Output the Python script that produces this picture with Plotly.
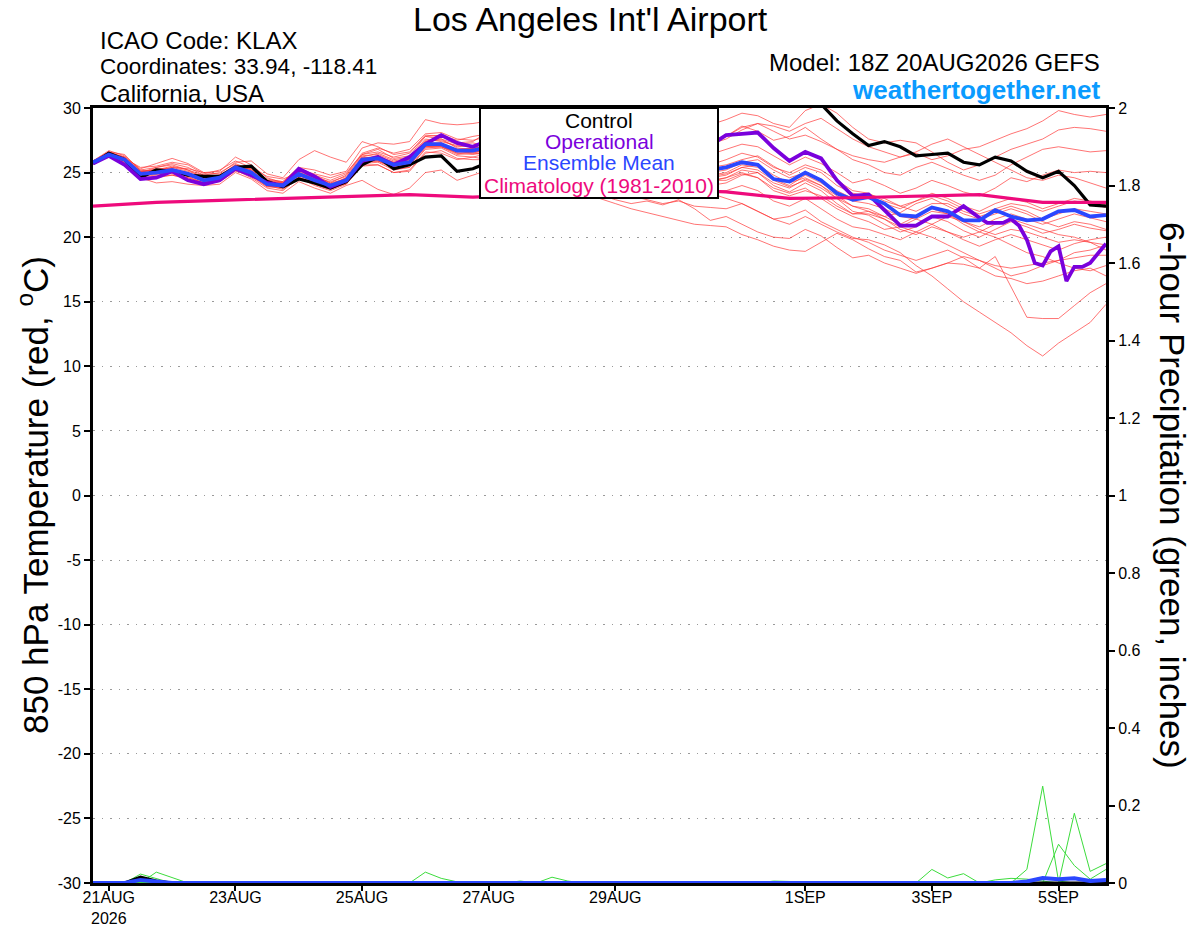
import pandas as pd
import plotly.graph_objects as go

# 6-hourly GEFS valid times, 18Z 20AUG2026 -> 18Z 5SEP2026
times = pd.date_range("2026-08-20 18:00", periods=65, freq="6h")

CONTROL_TEMP = [25.7, 26.5, 26.0, 24.6, 25.2, 25.1, 24.8, 24.7, 24.7, 25.4,
                25.5, 24.3, 23.9, 24.5, 24.2, 23.8, 24.3, 25.6, 26.2, 25.3,
                25.6, 26.2, 26.3, 25.1, 25.3, 25.8, 26.5, 27.0, 27.6, 28.0,
                28.3, 28.6, 28.9, 29.2, 29.5, 29.8, 30.1, 30.3, 30.0, 29.9,
                30.6, 31.2, 31.5, 31.6, 31.4, 31.0, 30.3, 29.0, 28.0, 27.1,
                27.4, 27.0, 26.3, 26.4, 26.5, 25.8, 25.6, 26.2, 25.9, 25.1,
                24.6, 25.1, 24.0, 22.5, 22.4]

MEAN_TEMP = [25.8, 26.4, 26.0, 24.9, 25.0, 25.2, 24.9, 24.4, 24.6, 25.4,
             25.0, 24.1, 24.0, 24.9, 24.4, 24.0, 24.4, 26.0, 26.1, 25.6,
             25.8, 27.2, 27.2, 26.7, 26.7, 27.0, 27.3, 27.5, 27.2, 26.9,
             26.6, 26.4, 26.6, 26.8, 26.9, 26.7, 26.2, 25.8, 25.4, 25.2,
             25.4, 25.8, 25.6, 24.5, 24.3, 25.0, 24.4, 23.4, 22.9, 23.1,
             22.6, 21.7, 21.6, 22.3, 22.0, 21.3, 21.3, 22.1, 21.6, 21.3,
             21.4, 22.0, 22.1, 21.6, 21.7]

# operational run: 6-hourly to 3SEP 18Z, 3-hourly afterwards
op_times = list(times[:57]) + list(pd.date_range("2026-09-03 21:00", periods=16, freq="3h"))
OP_TEMP = [25.7, 26.3, 25.6, 24.5, 24.6, 25.1, 24.4, 24.1, 24.4, 25.3,
           24.8, 24.2, 24.0, 25.3, 24.7, 23.9, 24.4, 25.9, 26.2, 25.6,
           26.2, 27.2, 27.9, 27.3, 27.0, 27.5, 27.8, 28.2, 28.0, 27.6,
           27.2, 27.0, 27.3, 27.6, 27.9, 28.0, 27.7, 27.3, 27.0, 27.1,
           27.9, 28.0, 28.1, 26.9, 25.9, 26.6, 26.1, 24.4, 23.2, 23.3,
           22.1, 20.9, 20.9, 21.6, 21.6, 22.4, 21.5,
           21.1, 21.1, 21.1, 21.4, 20.9, 19.8, 18.0, 17.8, 18.9, 19.3,
           16.6, 17.7, 17.7, 18.0, 18.8, 19.5]

# 1981-2010 climatology, daily at 18Z
clim_times = pd.date_range("2026-08-20 18:00", periods=17, freq="24h")
CLIM_TEMP = [22.4, 22.7, 22.85, 23.0, 23.15, 23.3, 23.1, 23.3, 23.5, 23.7,
             23.5, 23.0, 23.05, 23.2, 23.3, 22.7, 22.7]

ENS_TEMP = [
    [25.9, 26.6, 26.2, 25.3, 25.7, 26.1, 25.7, 25.0, 25.1, 26.2, 25.6, 24.6, 24.2, 25.2, 24.9, 24.6, 25.0, 26.4, 26.8, 26.1, 26.3, 27.8, 27.9, 27.5, 27.8,
     28.0, 28.3, 28.0, 27.6, 27.4, 27.5, 27.8, 28.0, 28.2, 28.0, 27.6, 27.3, 27.0, 27.2, 27.5,
     27.8, 28.5, 28.8, 28.2, 27.6, 27.9, 27.4, 26.8, 26.3, 26.0, 25.8, 26.2, 26.5, 26.0, 26.3, 26.8, 27.0, 27.5, 28.0, 28.4, 29.0, 29.8, 29.5, 29.3, 29.5],
    [25.8, 26.5, 26.1, 25.1, 25.2, 25.4, 25.1, 24.7, 24.8, 25.5, 25.3, 24.4, 24.3, 25.4, 25.2, 24.8, 25.1, 26.9, 27.3, 27.2, 27.4, 29.1, 28.8, 28.7, 28.8,
     29.0, 29.3, 29.6, 29.4, 29.0, 28.7, 28.9, 29.2, 29.5, 29.8, 29.6, 29.3, 29.0, 28.8, 28.7,
     29.1, 29.6, 29.4, 28.8, 28.5, 29.8, 30.3, 29.6, 28.5, 27.6, 27.3, 27.5, 27.3, 26.6, 25.8, 25.2, 25.6, 26.2, 26.8, 27.2, 27.6, 28.3, 28.5, 28.4, 28.2],
    [25.7, 26.2, 25.8, 24.6, 24.2, 24.3, 24.1, 24.0, 24.1, 25.0, 24.5, 23.6, 23.4, 24.3, 23.8, 23.4, 24.0, 24.4, 23.7, 23.3, 23.8, 25.0, 25.2, 24.4, 24.8,
     25.2, 25.6, 25.4, 25.0, 24.6, 24.2, 23.8, 23.3, 22.9, 22.6, 22.8, 22.5, 22.9, 22.2, 21.3,
     21.6, 21.0, 20.4, 20.0, 19.9, 20.6, 20.1, 19.2, 18.4, 18.6, 18.0, 17.6, 17.2, 17.6, 18.0, 17.9, 17.6, 18.5, 16.1, 13.8, 13.7, 13.7, 14.7, 15.7, 16.4],
    [25.8, 26.4, 25.9, 24.8, 25.1, 25.4, 25.3, 25.0, 24.9, 25.8, 25.9, 24.9, 24.6, 26.0, 26.7, 26.2, 25.8, 27.4, 27.0, 26.4, 26.6, 27.8, 27.6, 27.2, 27.3,
     27.0, 27.3, 27.0, 26.5, 26.0, 25.7, 25.8, 26.0, 25.7, 25.2, 24.8, 24.5, 24.2, 23.8, 23.4,
     23.0, 22.6, 22.0, 21.4, 21.0, 21.6, 21.0, 20.4, 19.9, 19.8, 19.4, 18.8, 17.8, 17.0, 16.0, 15.0, 14.2, 13.4, 12.6, 11.6, 10.8, 11.8, 12.6, 13.4, 14.8],
    [25.9, 26.7, 26.3, 25.2, 25.0, 24.9, 24.6, 24.2, 24.4, 25.2, 24.6, 23.8, 23.6, 24.6, 24.1, 23.7, 24.2, 25.7, 25.8, 25.2, 25.4, 26.8, 26.9, 26.3, 26.2,
     26.0, 26.2, 25.8, 25.2, 24.6, 24.0, 23.5, 23.0, 22.6, 22.2, 21.9, 21.6, 21.3, 21.0, 20.9,
     20.8, 20.2, 19.8, 19.3, 19.0, 18.9, 19.6, 20.3, 19.8, 19.1, 18.5, 18.2, 17.3, 17.6, 18.0, 18.5, 18.2, 17.6, 17.0, 17.3, 17.8, 18.2, 18.8, 19.0, 19.4],
    [25.8, 26.3, 26.0, 25.0, 25.4, 25.6, 25.2, 24.6, 24.8, 25.6, 25.1, 24.3, 24.2, 25.1, 24.6, 24.3, 24.7, 26.3, 26.4, 25.9, 26.1, 27.5, 27.5, 27.0, 27.1,
     27.5, 27.8, 27.6, 27.2, 26.9, 26.5, 26.3, 26.6, 26.9, 27.0, 26.8, 26.3, 25.9, 25.6, 25.4,
     25.6, 26.0, 26.3, 25.5, 24.8, 25.4, 25.0, 24.0, 23.4, 23.2, 22.6, 22.2, 22.8, 23.4, 23.0, 22.4, 22.0, 22.6, 23.0, 22.7, 22.2, 22.6, 23.0, 22.8, 22.5],
    [25.7, 26.5, 26.2, 24.7, 24.8, 25.0, 24.8, 24.3, 24.4, 25.3, 25.0, 24.0, 23.9, 24.8, 24.3, 23.9, 24.1, 25.8, 25.9, 25.3, 25.4, 26.9, 27.0, 26.4, 26.5,
     26.8, 27.0, 26.6, 26.2, 25.8, 25.5, 25.8, 26.2, 26.4, 26.2, 25.8, 25.2, 24.8, 24.5, 24.3,
     24.6, 25.2, 25.0, 24.2, 23.8, 24.5, 24.0, 23.0, 22.0, 21.7, 21.0, 20.4, 20.8, 21.6, 21.2, 20.5, 20.0, 20.6, 21.2, 20.8, 20.3, 20.6, 21.0, 20.7, 20.5],
    [25.8, 26.6, 26.1, 25.4, 25.5, 25.8, 25.6, 24.9, 25.2, 25.9, 25.4, 24.7, 24.5, 25.0, 24.5, 24.1, 24.6, 26.2, 26.0, 25.5, 25.8, 27.4, 27.6, 26.9, 26.8,
     27.2, 27.6, 27.8, 27.5, 27.2, 27.0, 27.3, 27.6, 27.8, 27.6, 27.2, 26.8, 26.5, 26.2, 26.4,
     26.8, 27.2, 27.0, 26.3, 25.6, 26.2, 25.7, 25.0, 24.2, 24.5, 24.0, 23.4, 23.8, 24.4, 24.0, 23.5, 23.2, 23.8, 24.6, 24.3, 24.8, 25.2, 25.0, 25.1, 25.0],
    [25.9, 26.4, 25.9, 24.5, 24.6, 24.8, 24.5, 24.1, 24.3, 25.1, 24.8, 23.9, 23.8, 24.6, 24.0, 23.6, 24.1, 25.5, 25.6, 25.0, 25.2, 26.6, 26.5, 26.0, 26.2,
     26.5, 26.8, 26.5, 26.0, 25.6, 25.3, 25.6, 25.9, 26.0, 25.8, 25.4, 25.0, 24.6, 24.2, 24.0,
     24.2, 24.8, 25.0, 24.0, 23.5, 24.2, 23.6, 22.6, 21.8, 22.0, 21.4, 20.6, 20.2, 20.8, 20.4, 19.8, 19.3, 19.8, 20.2, 19.8, 19.4, 19.0, 19.5, 19.8, 20.0],
    [25.8, 26.5, 26.0, 25.0, 25.3, 25.3, 25.0, 24.4, 24.7, 25.6, 25.2, 24.2, 24.1, 25.3, 24.8, 24.4, 24.9, 26.5, 26.9, 26.5, 26.8, 28.0, 28.1, 27.6, 27.5,
     27.8, 28.2, 28.4, 28.0, 27.6, 27.4, 27.7, 28.0, 28.3, 28.5, 28.2, 27.8, 27.5, 27.2, 27.4,
     27.8, 28.6, 28.2, 27.5, 27.8, 28.5, 27.6, 26.8, 26.0, 25.6, 25.0, 24.8, 25.4, 25.8, 25.3, 24.8, 24.4, 24.8, 25.6, 26.2, 26.8, 27.0, 26.8, 26.6, 26.7],
    [25.7, 26.2, 25.8, 24.8, 24.9, 25.1, 24.7, 24.2, 24.5, 25.2, 24.9, 24.0, 23.7, 24.5, 24.2, 23.8, 24.3, 25.9, 26.2, 25.8, 26.0, 27.0, 27.0, 26.5, 26.6,
     26.6, 26.9, 26.7, 26.4, 26.1, 25.8, 26.0, 26.3, 26.5, 26.3, 26.0, 25.6, 25.2, 25.0, 24.8,
     25.0, 25.6, 25.4, 24.5, 24.0, 24.8, 24.2, 23.4, 22.8, 22.6, 22.2, 21.6, 21.4, 22.0, 21.8, 21.2, 20.8, 21.4, 21.8, 21.4, 21.0, 21.4, 21.8, 21.5, 21.2],
    [25.8, 26.6, 26.4, 25.1, 24.9, 25.0, 24.7, 24.5, 24.7, 25.5, 24.7, 23.9, 24.0, 24.8, 24.2, 23.9, 24.5, 26.1, 25.9, 25.4, 25.6, 27.3, 27.3, 26.6, 26.9,
     27.0, 27.4, 27.2, 26.8, 26.4, 26.0, 26.2, 26.5, 26.8, 26.6, 26.2, 25.8, 25.4, 25.0, 24.6,
     24.8, 25.4, 25.6, 24.8, 24.2, 24.6, 24.0, 23.2, 22.4, 22.2, 21.6, 21.0, 21.6, 22.2, 21.8, 21.0, 20.4, 20.0, 19.4, 18.8, 18.5, 18.0, 17.6, 17.4, 17.8],
    [25.9, 26.5, 26.0, 24.9, 25.2, 25.5, 25.2, 24.8, 24.8, 25.4, 25.3, 24.4, 24.2, 25.2, 24.7, 24.1, 24.4, 26.2, 26.5, 26.0, 26.2, 27.6, 27.4, 27.1, 27.0,
     27.2, 27.5, 27.2, 26.9, 26.6, 26.4, 26.7, 27.0, 27.2, 27.0, 26.6, 26.1, 25.7, 25.3, 25.0,
     25.2, 25.8, 26.0, 25.2, 24.6, 25.0, 24.4, 23.6, 23.0, 23.3, 23.0, 22.4, 22.0, 22.6, 22.6, 22.0, 21.6, 22.0, 22.4, 22.0, 21.4, 21.8, 22.2, 22.0, 21.8],
    [25.8, 26.3, 25.9, 24.6, 24.7, 24.8, 24.6, 24.2, 24.5, 25.2, 24.9, 24.0, 23.8, 24.7, 24.1, 23.7, 24.2, 25.6, 25.6, 25.0, 25.1, 26.5, 26.7, 26.1, 26.0,
     26.0, 26.2, 25.9, 25.4, 25.0, 24.6, 24.4, 24.0, 23.6, 23.2, 22.9, 22.6, 22.8, 22.4, 22.3,
     22.2, 22.6, 22.0, 21.4, 21.6, 22.1, 21.2, 20.6, 20.0, 19.6, 19.0, 18.6, 18.2, 18.6, 19.0, 18.4, 17.6, 17.0, 16.8, 16.4, 16.6, 17.0, 17.4, 17.6, 17.0],
    [25.7, 26.4, 26.1, 25.2, 25.4, 25.7, 25.4, 24.8, 25.0, 25.7, 25.2, 24.5, 24.3, 25.4, 24.8, 24.2, 24.8, 26.4, 26.6, 26.2, 26.5, 27.9, 27.8, 27.3, 27.4,
     28.2, 28.6, 28.8, 28.4, 28.0, 27.8, 28.1, 28.4, 28.6, 28.4, 28.0, 27.6, 27.3, 27.0, 27.2,
     27.6, 28.3, 28.8, 28.6, 28.2, 28.8, 29.2, 28.4, 27.6, 27.0, 26.6, 26.2, 26.6, 27.2, 27.6, 27.0, 26.4, 25.8, 25.2, 24.6, 24.4, 24.8, 24.6, 24.2, 23.8],
    [25.8, 26.5, 26.0, 24.9, 25.0, 25.1, 24.8, 24.3, 24.5, 25.3, 25.1, 24.1, 24.0, 24.9, 24.4, 24.0, 24.3, 26.0, 26.1, 25.4, 25.6, 27.0, 27.1, 26.5, 26.4,
     26.6, 26.9, 26.7, 26.3, 25.9, 25.6, 25.8, 26.1, 26.3, 26.1, 25.7, 25.3, 24.9, 24.6, 24.4,
     24.6, 25.0, 24.6, 23.8, 23.4, 23.8, 23.0, 22.2, 21.6, 21.2, 20.6, 20.8, 21.4, 21.0, 20.4, 20.0, 20.4, 21.0, 21.4, 21.0, 20.6, 20.2, 20.0, 19.6, 19.0],
    [25.9, 26.6, 26.1, 25.0, 24.9, 25.2, 25.0, 24.6, 24.6, 25.5, 25.0, 24.2, 24.1, 25.0, 24.5, 24.0, 24.6, 26.1, 26.3, 25.8, 25.9, 27.3, 27.2, 26.8, 26.9,
     27.0, 27.3, 27.0, 26.7, 26.4, 26.2, 26.5, 26.9, 27.1, 26.9, 26.5, 26.0, 25.6, 25.3, 25.6,
     26.0, 26.5, 26.2, 25.4, 25.0, 25.6, 25.2, 24.4, 23.6, 23.4, 22.8, 22.4, 22.8, 23.2, 22.8, 22.2, 21.8, 22.2, 22.6, 22.4, 22.0, 22.4, 22.8, 22.6, 22.3],
    [25.8, 26.3, 25.9, 24.8, 25.0, 25.3, 24.9, 24.4, 24.6, 25.3, 24.8, 24.1, 23.9, 24.8, 24.4, 24.1, 24.4, 25.9, 26.0, 25.6, 25.7, 27.1, 27.3, 26.7, 26.5,
     26.4, 26.6, 26.4, 26.0, 25.6, 25.2, 25.0, 25.3, 25.5, 25.3, 24.9, 24.5, 24.1, 23.7, 23.5,
     23.6, 24.0, 23.6, 22.8, 22.4, 23.0, 22.2, 21.4, 20.8, 20.6, 20.2, 19.8, 20.4, 20.0, 19.4, 18.8, 18.2, 17.8, 17.6, 17.8, 18.0, 18.2, 18.4, 18.6, 18.6],
    [25.7, 26.4, 26.0, 25.1, 25.2, 25.2, 24.9, 24.5, 24.7, 25.5, 25.1, 24.3, 24.1, 25.0, 24.6, 24.2, 24.5, 26.1, 26.2, 25.7, 26.0, 27.4, 27.1, 26.8, 26.8,
     26.8, 27.1, 26.9, 26.5, 26.1, 25.9, 26.1, 26.4, 26.7, 26.5, 26.1, 25.7, 25.3, 24.9, 24.7,
     24.9, 25.4, 25.2, 24.4, 23.9, 24.4, 23.8, 23.0, 22.4, 22.0, 21.6, 21.9, 22.6, 23.0, 22.4, 21.8, 21.4, 21.8, 22.2, 21.8, 21.2, 20.8, 21.2, 21.0, 20.6],
    [25.8, 26.5, 26.2, 24.9, 24.9, 25.0, 24.8, 24.4, 24.4, 25.3, 24.9, 24.0, 23.9, 24.8, 24.3, 23.9, 24.3, 25.8, 25.9, 25.5, 25.6, 27.0, 27.0, 26.6, 26.6,
     26.7, 27.0, 26.8, 26.4, 26.0, 25.7, 25.9, 26.2, 26.4, 26.2, 25.8, 25.4, 25.0, 24.7, 24.4,
     24.4, 24.9, 24.6, 23.6, 23.2, 23.6, 23.2, 22.4, 21.8, 21.8, 21.4, 20.8, 20.4, 21.0, 21.6, 21.2, 20.6, 20.2, 20.6, 20.4, 20.0, 19.6, 19.8, 19.6, 19.4],
]

# 6-hour precipitation (inches): (time index, amount) for the members that had any
ENS_PRECIP = [
    [(3, 0.023), (4, 0.012), (53, 0.035), (54, 0.013), (55, 0.024)],
    [(4, 0.028), (5, 0.013)],
    [(21, 0.028), (22, 0.012), (23, 0.003)],
    [(29, 0.015), (30, 0.005), (59, 0.035), (60, 0.25), (61, 0.005)],
    [(27, 0.005), (61, 0.1), (62, 0.045), (63, 0.01), (64, 0.035)],
    [(43, 0.005), (44, 0.004), (62, 0.18), (63, 0.03), (64, 0.05)],
    [(57, 0.008), (58, 0.012), (59, 0.01), (60, 0.005)],
]
MEAN_PRECIP = [(3, 0.008), (4, 0.005), (21, 0.002), (59, 0.004), (60, 0.013),
               (61, 0.01), (62, 0.012), (63, 0.005), (64, 0.008)]
CONTROL_PRECIP = [(3, 0.015), (4, 0.005)]

TICK_DATES = ["2026-08-21", "2026-08-23", "2026-08-25", "2026-08-27",
              "2026-08-29", "2026-09-01", "2026-09-03", "2026-09-05"]
TICK_TEXT = ["21AUG<br>2026", "23AUG", "25AUG", "27AUG", "29AUG", "1SEP", "3SEP", "5SEP"]
TEMP_TICKS = list(range(-30, 31, 5))
PRECIP_TICKS = [0, 0.2, 0.4, 0.6, 0.8, 1, 1.2, 1.4, 1.6, 1.8, 2]

FONT = "Liberation Sans, Arial, Helvetica, sans-serif"


def full_series(pairs):
    vals = [0.0] * len(times)
    for i, v in pairs:
        vals[i] = v
    return vals


W, H = 1200, 927
PLOT_L, PLOT_R, PLOT_T, PLOT_B = 93, 1106, 108, 883


# page pixel -> paper helpers
def px(x):
    return (x - PLOT_L) / (PLOT_R - PLOT_L)


def py(y):
    return (PLOT_B - y) / (PLOT_B - PLOT_T)


fig = go.Figure()

for m in ENS_TEMP:
    assert len(m) == len(times)
    fig.add_trace(go.Scatter(x=times, y=m, mode="lines",
                             line=dict(color="rgba(255,50,50,0.68)", width=1)))

for p in ENS_PRECIP:
    fig.add_trace(go.Scatter(x=times, y=full_series(p), mode="lines", yaxis="y2",
                             line=dict(color="#3CDC3C", width=1)))

fig.add_trace(go.Scatter(x=times, y=full_series(CONTROL_PRECIP), mode="lines", yaxis="y2",
                         line=dict(color="black", width=3)))
fig.add_trace(go.Scatter(x=times, y=full_series(MEAN_PRECIP), mode="lines", yaxis="y2",
                         line=dict(color="#2B47FF", width=4)))

fig.add_trace(go.Scatter(x=times, y=CONTROL_TEMP, mode="lines",
                         line=dict(color="black", width=3.2)))
fig.add_trace(go.Scatter(x=op_times, y=OP_TEMP, mode="lines",
                         line=dict(color="#7A00DC", width=3.8)))
fig.add_trace(go.Scatter(x=times, y=MEAN_TEMP, mode="lines",
                         line=dict(color="#2B47FF", width=3.8)))
fig.add_trace(go.Scatter(x=clim_times, y=CLIM_TEMP, mode="lines",
                         line=dict(color="#EE0A7C", width=3.2)))

annotations = [
    dict(x=px(590), y=py(19), text="Los Angeles Int'l Airport", xanchor="center",
         font=dict(size=34)),
    dict(x=px(98), y=py(40), text="ICAO Code: KLAX", xanchor="left", font=dict(size=24)),
    dict(x=px(98), y=py(66), text="Coordinates: 33.94, -118.41", xanchor="left", font=dict(size=22.5)),
    dict(x=px(98), y=py(93), text="California, USA", xanchor="left", font=dict(size=24)),
    dict(x=px(1102), y=py(63), text="Model: 18Z 20AUG2026 GEFS", xanchor="right", font=dict(size=24)),
    dict(x=px(1102), y=py(90), text="<b>weathertogether.net</b>", xanchor="right",
         font=dict(size=26, color="#0A9BFF")),
    dict(x=px(33), y=py(495), text="850 hPa Temperature (red, <sup>o</sup>C)", textangle=-90,
         font=dict(size=35)),
    dict(x=px(1173), y=py(495), text="6-hour Precipitation (green, inches)", textangle=90,
         font=dict(size=35)),
    dict(x=px(599), y=py(121), text="Control", font=dict(size=21, color="black")),
    dict(x=px(599), y=py(142), text="Operational", font=dict(size=21, color="#7A00DC")),
    dict(x=px(599), y=py(163), text="Ensemble Mean", font=dict(size=21, color="#2B47FF")),
    dict(x=px(599), y=py(185), text="Climatology (1981-2010)", font=dict(size=21, color="#EE0A7C")),
]
for a in annotations:
    a.update(xref="paper", yref="paper", showarrow=False, yanchor="middle")
    a.setdefault("xanchor", "center")

fig.update_layout(
    width=W, height=H,
    margin=dict(l=PLOT_L, r=W - PLOT_R, t=PLOT_T, b=H - PLOT_B),
    paper_bgcolor="white", plot_bgcolor="white",
    showlegend=False,
    font=dict(family=FONT, size=16, color="black"),
    annotations=annotations,
    shapes=[dict(type="rect", xref="paper", yref="paper",
                 x0=px(480), x1=px(718), y0=py(198), y1=1,
                 fillcolor="white", line=dict(color="black", width=2), layer="above")],
    xaxis=dict(range=[times[0], times[-1]], tickvals=pd.to_datetime(TICK_DATES), ticktext=TICK_TEXT,
               ticks="outside", ticklen=5, tickwidth=1.5, tickcolor="black", ticklabelstandoff=-7,
               showgrid=False, zeroline=False, automargin=False,
               showline=True, linecolor="black", linewidth=3, mirror=True,
               tickfont=dict(size=16)),
    yaxis=dict(range=[-30, 30], tickvals=TEMP_TICKS, ticktext=[str(t) for t in TEMP_TICKS],
               ticks="outside", ticklen=6, tickwidth=1.5, tickcolor="black",
               showgrid=True, gridcolor="#9A9A9A", griddash="1.5px,7px", gridwidth=1.2,
               zeroline=False, showline=True, linecolor="black", linewidth=3, mirror=True,
               automargin=False, tickfont=dict(size=16)),
    yaxis2=dict(range=[0, 2], tickvals=PRECIP_TICKS, ticktext=[f"{t:g}" for t in PRECIP_TICKS],
                overlaying="y", side="right",
                ticks="outside", ticklen=6, tickwidth=1.5, tickcolor="black",
                showgrid=False, zeroline=False, showline=True, linecolor="black", linewidth=3,
                automargin=False, tickfont=dict(size=16)),
)

# drop the browser's default 8px body margin so the figure fills the window exactly
fig.write_html("out.html", config={"displayModeBar": False},
               post_script="document.body.style.margin='0px';")
